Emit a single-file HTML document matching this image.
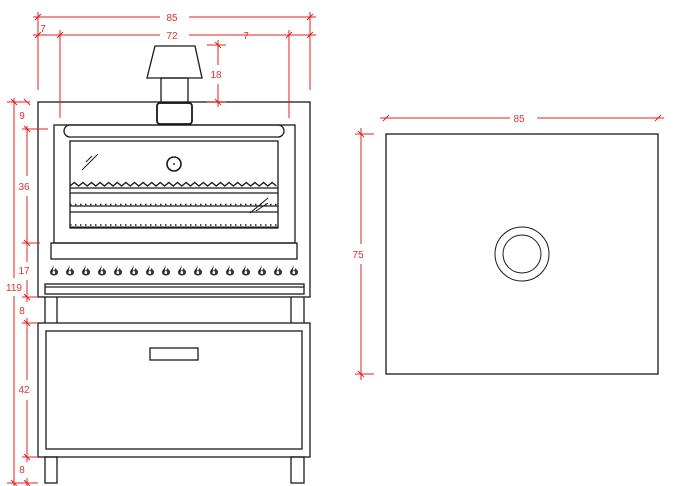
<!DOCTYPE html>
<html><head><style>body{margin:0;background:#fff}svg{display:block}</style></head><body>
<svg width="681" height="486" viewBox="0 0 681 486" xmlns="http://www.w3.org/2000/svg" font-family="Liberation Sans, sans-serif">
<defs>
<path id="fl" d="M0,-5 C-1,-2 -4,0 -4,2 C-4,4.5 -2,5.5 0,5.5 C2,5.5 4,4.5 4,2 C4,0 2,-1 1,-2 C1,0 0,1 -1,0 C-1,-2 0,-3 0,-5 Z M-1.5,3 C-1.5,1 0,1 0,0.5 C1.5,2 1.5,4 0,4 C-1,4 -1.5,3.5 -1.5,3Z" fill="#333" fill-rule="evenodd"/>
</defs>
<g stroke="#1a1a1a" stroke-width="1.3" fill="none">
<!-- chimney -->
<path d="M155,46 L195,46 L202,78 L147,78 Z"/>
<rect x="161" y="78" width="27" height="25"/>
<rect x="157" y="103" width="35" height="21" rx="3" stroke-width="1.8"/>
<!-- main body -->
<rect x="38" y="102" width="272" height="195"/>
<rect x="54" y="125" width="241" height="118"/>
<rect x="64" y="125" width="220" height="12" rx="6"/>
<rect x="70" y="141" width="208" height="87"/>
<line x1="70" y1="227.5" x2="278" y2="227.5" stroke-width="2"/>
<line x1="70" y1="188" x2="278" y2="188"/>
<line x1="70" y1="193" x2="278" y2="193"/>
<line x1="70" y1="206" x2="278" y2="206"/>
<line x1="70" y1="212" x2="278" y2="212"/>
<line x1="70" y1="225" x2="278" y2="225" stroke-width="1.5" stroke-dasharray="1.5 3.5"/>
<line x1="70" y1="204.5" x2="278" y2="204.5" stroke-width="1.5" stroke-dasharray="1.5 3.5"/>
<path d="M70,186 l4.3,-3.5 l4.3,3.5 l4.3,-3.5 l4.3,3.5 l4.3,-3.5 l4.3,3.5 l4.3,-3.5 l4.3,3.5 l4.3,-3.5 l4.3,3.5 l4.3,-3.5 l4.3,3.5 l4.3,-3.5 l4.3,3.5 l4.3,-3.5 l4.3,3.5 l4.3,-3.5 l4.3,3.5 l4.3,-3.5 l4.3,3.5 l4.3,-3.5 l4.3,3.5 l4.3,-3.5 l4.3,3.5 l4.3,-3.5 l4.3,3.5 l4.3,-3.5 l4.3,3.5 l4.3,-3.5 l4.3,3.5 l4.3,-3.5 l4.3,3.5 l4.3,-3.5 l4.3,3.5 l4.3,-3.5 l4.3,3.5 l4.3,-3.5 l4.3,3.5 l4.3,-3.5 l4.3,3.5 l4.3,-3.5 l4.3,3.5 l4.3,-3.5 l4.3,3.5 l4.3,-3.5 l4.3,3.5 l4.3,-3.5 l4.3,3.5" stroke-width="1.4"/>
<circle cx="174" cy="164" r="7" stroke-width="1.6"/>
<line x1="82" y1="170" x2="98" y2="154" stroke-width="1"/>
<line x1="86" y1="162" x2="92" y2="156" stroke-width="1"/>
<line x1="250" y1="213" x2="268" y2="198" stroke-width="1"/>
<line x1="256" y1="211" x2="268" y2="203" stroke-width="1"/>
<rect x="51" y="243" width="246" height="16"/>
<rect x="45" y="284" width="259" height="10"/>
<line x1="45" y1="287" x2="304" y2="287"/>
<!-- legs upper -->
<line x1="45" y1="297" x2="45" y2="323"/><line x1="57" y1="297" x2="57" y2="323"/>
<line x1="291" y1="297" x2="291" y2="323"/><line x1="304" y1="297" x2="304" y2="323"/>
<!-- cabinet -->
<rect x="38" y="323" width="272" height="134"/>
<rect x="46" y="331" width="256" height="118"/>
<rect x="150" y="348" width="48" height="12"/>
<rect x="45" y="457" width="12" height="26"/>
<rect x="291" y="457" width="13" height="26"/>
<!-- right -->
<rect x="386" y="134" width="272" height="240"/>
<circle cx="522" cy="254" r="27" stroke-width="1"/>
<circle cx="522" cy="254" r="19" stroke-width="1"/>
</g>
<g fill="#333">
<circle cx="174" cy="164" r="1"/>
<use href="#fl" x="54" y="270"/><use href="#fl" x="70" y="270"/><use href="#fl" x="86" y="270"/><use href="#fl" x="102" y="270"/>
<use href="#fl" x="118" y="270"/><use href="#fl" x="134" y="270"/><use href="#fl" x="150" y="270"/><use href="#fl" x="166" y="270"/>
<use href="#fl" x="182" y="270"/><use href="#fl" x="198" y="270"/><use href="#fl" x="214" y="270"/><use href="#fl" x="230" y="270"/>
<use href="#fl" x="246" y="270"/><use href="#fl" x="262" y="270"/><use href="#fl" x="278" y="270"/><use href="#fl" x="294" y="270"/>
</g>
<!-- dimensions -->
<g stroke="#e02020" stroke-width="1" fill="none">
<line x1="33" y1="17" x2="160" y2="17"/><line x1="189" y1="17" x2="316" y2="17"/>
<line x1="33" y1="35" x2="160" y2="35"/><line x1="189" y1="35" x2="316" y2="35"/>
<line x1="38" y1="12" x2="38" y2="90"/><line x1="310" y1="12" x2="310" y2="90"/>
<line x1="60" y1="30" x2="60" y2="118"/><line x1="289" y1="30" x2="289" y2="118"/>
<path d="M35,20 l6,-6 M307,20 l6,-6 M35,38 l6,-6 M57,38 l6,-6 M286,38 l6,-6 M307,38 l6,-6"/>
<line x1="207" y1="45" x2="226" y2="45"/><line x1="207" y1="102" x2="226" y2="102"/>
<line x1="218" y1="40" x2="218" y2="65"/><line x1="218" y1="84" x2="218" y2="107"/>
<path d="M215,42 l6,6 M215,99 l6,6"/>
<!-- left -->
<line x1="14" y1="98" x2="14" y2="278"/><line x1="14" y1="296" x2="14" y2="486"/>
<line x1="7" y1="102" x2="30" y2="102"/>
<line x1="22" y1="129" x2="48" y2="129"/>
<line x1="22" y1="243" x2="40" y2="243"/>
<line x1="22" y1="297" x2="38" y2="297"/>
<line x1="22" y1="323" x2="38" y2="323"/>
<line x1="22" y1="457" x2="38" y2="457"/>
<line x1="7" y1="483" x2="38" y2="483"/>
<line x1="27" y1="126" x2="27" y2="176"/><line x1="27" y1="196" x2="27" y2="262"/>
<line x1="27" y1="280" x2="27" y2="302"/><line x1="27" y1="318" x2="27" y2="380"/>
<line x1="27" y1="400" x2="27" y2="462"/><line x1="27" y1="478" x2="27" y2="486"/>
<path d="M11,99 l6,6 M24,99 l6,6 M24,126 l6,6 M24,240 l6,6 M24,294 l6,6 M24,320 l6,6 M24,454 l6,6 M24,480 l6,6 M11,480 l6,6"/>
<!-- right -->
<line x1="380" y1="118" x2="510" y2="118"/><line x1="537" y1="118" x2="664" y2="118"/>
<path d="M383,121 l6,-6 M655,121 l6,-6"/>
<line x1="361" y1="128" x2="361" y2="244"/><line x1="361" y1="264" x2="361" y2="380"/>
<line x1="355" y1="134" x2="374" y2="134"/><line x1="355" y1="374" x2="374" y2="374"/>
<path d="M358,131 l6,6 M358,371 l6,6"/>
</g>
<g fill="#e03030" font-size="10" text-anchor="middle">
<text x="172" y="21">85</text>
<text x="172" y="39">72</text>
<text x="43" y="32">7</text>
<text x="246" y="39">7</text>
<text x="216" y="78">18</text>
<text x="22" y="119">9</text>
<text x="24" y="190">36</text>
<text x="24" y="274">17</text>
<text x="14" y="291">119</text>
<text x="22" y="314">8</text>
<text x="24" y="393">42</text>
<text x="22" y="473">8</text>
<text x="519" y="122">85</text>
<text x="358" y="258">75</text>
</g>
</svg>
</body></html>
